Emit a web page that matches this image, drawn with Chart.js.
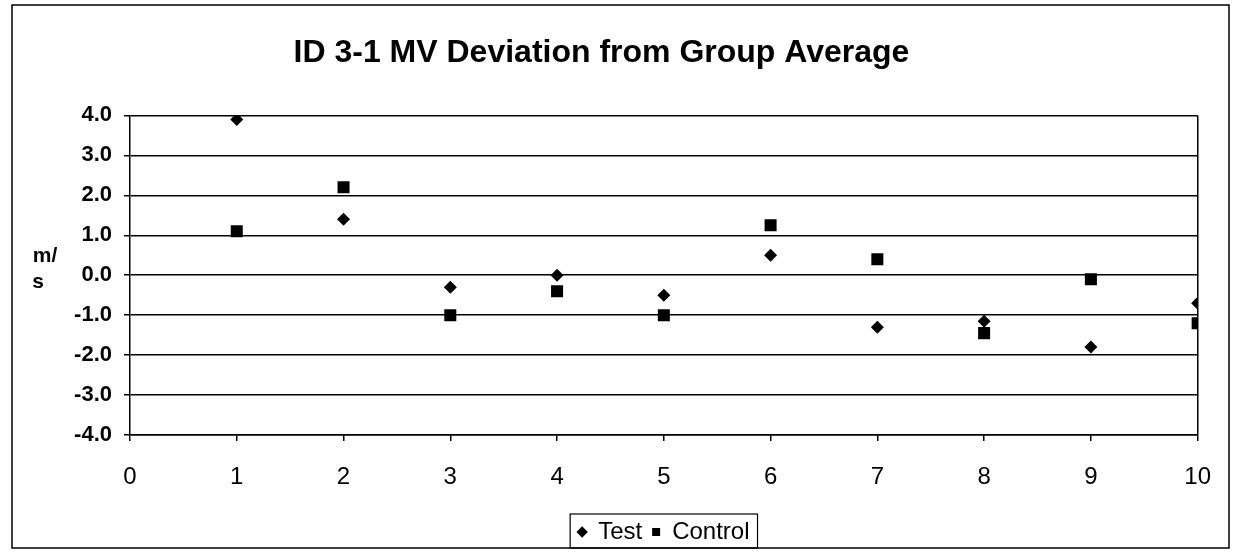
<!DOCTYPE html>
<html>
<head>
<meta charset="utf-8">
<script src="https://cdn.jsdelivr.net/npm/chart.js@4/dist/chart.umd.min.js"></script>
<style>
  html, body { margin: 0; padding: 0; background: #fff; }
  #wrap { width: 1233px; height: 560px; }
</style>
</head>
<body>
<div id="wrap"><canvas id="myChart" width="1233" height="560"></canvas></div>
<script>
'use strict'

// データ
const xValues = [1, 2, 3, 4, 5, 6, 7, 8, 9, 10];
const testValues = [3.9, 1.4, -0.3, 0.0, -0.5, 0.5, -1.3, -1.15, -1.8, -0.7];
const controlValues = [1.1, 2.2, -1.0, -0.4, -1.0, 1.25, 0.4, -1.45, -0.1, -1.2];
const yTicks = [-4, -3, -2, -1, 0, 1, 2, 3, 4];
const xTicks = [0, 1, 2, 3, 4, 5, 6, 7, 8, 9, 10];

const FONT = "Arial, 'Liberation Sans', sans-serif";

function toPoints(ys) {
    return xValues.map((x, i) => ({ x: x, y: ys[i] }));
}

// 外枠・凡例枠・縦軸タイトル
const framePlugin = {
    id: 'frame',
    beforeDraw(chart) {
        const c = chart.ctx;
        c.save();
        c.fillStyle = '#fff';
        c.fillRect(0, 0, chart.width, chart.height);
        c.strokeStyle = '#000';
        c.lineWidth = 1.5;
        c.strokeRect(12, 5, 1217, 543);
        c.restore();
    },
    afterDraw(chart) {
        const c = chart.ctx;
        const boxes = chart.legend.legendHitBoxes;
        if (boxes && boxes.length) {
            const first = boxes[0];
            const last = boxes[boxes.length - 1];
            const left = first.left - 8;
            const right = last.left + last.width + 8;
            c.save();
            c.strokeStyle = '#000';
            c.lineWidth = 1.2;
            c.strokeRect(left, first.top - 6, right - left, first.height + 10);
            c.restore();
        }
        c.save();
        c.fillStyle = '#000';
        c.font = 'bold 21px ' + FONT;
        c.textAlign = 'center';
        c.textBaseline = 'middle';
        c.fillText('m/', 45, 256);
        c.fillText('s', 38, 282);
        c.restore();
    }
};

new Chart(document.getElementById('myChart'), {
    type: 'scatter',
    data: {
        datasets: [{
            label: 'Test',
            data: toPoints(testValues),
            pointStyle: 'rectRot',
            pointRadius: 6.5,
            backgroundColor: '#000',
            borderColor: '#000',
            borderWidth: 0
        }, {
            label: 'Control',
            data: toPoints(controlValues),
            pointStyle: 'rect',
            pointRadius: 8.5,
            backgroundColor: '#000',
            borderColor: '#000',
            borderWidth: 0
        }]
    },
    options: {
        responsive: false,
        animation: false,
        layout: { padding: { left: 0, right: 30, top: 0, bottom: 6 } },
        scales: {
            x: {
                type: 'linear',
                min: 0,
                max: 10,
                afterBuildTicks(scale) { scale.ticks = xTicks.map(v => ({ value: v })); },
                afterFit(scale) { scale.height = 75; },
                ticks: {
                    color: '#000',
                    padding: 22,
                    font: { family: FONT, size: 24 },
                    maxRotation: 0
                },
                grid: {
                    color: ctx => (ctx.tick && ctx.tick.value === 10) ? '#000' : 'rgba(0,0,0,0)',
                    tickColor: '#000',
                    tickLength: 6,
                    lineWidth: 1.5
                },
                border: { display: true, color: '#000', width: 1.5 }
            },
            y: {
                type: 'linear',
                min: -4,
                max: 4,
                afterBuildTicks(scale) { scale.ticks = yTicks.map(v => ({ value: v })); },
                afterFit(scale) { scale.width = 130; },
                ticks: {
                    color: '#000',
                    padding: 12,
                    font: { family: FONT, size: 22, weight: 'bold' },
                    callback: v => Number(v).toFixed(1)
                },
                grid: {
                    color: '#000',
                    tickColor: '#000',
                    tickLength: 6,
                    lineWidth: 1.5
                },
                border: { display: true, color: '#000', width: 1.5 }
            }
        },
        plugins: {
            title: {
                display: true,
                text: 'ID 3-1 MV Deviation from Group Average',
                color: '#000',
                font: { family: FONT, size: 32, weight: 'bold' },
                padding: { top: 34, bottom: 43 }
            },
            legend: {
                position: 'bottom',
                fullSize: false,
                labels: {
                    color: '#000',
                    usePointStyle: true,
                    boxWidth: 8,
                    boxHeight: 8,
                    padding: 10,
                    font: { family: FONT, size: 24 }
                }
            },
            tooltip: { enabled: false }
        }
    },
    plugins: [framePlugin]
});
</script>
</body>
</html>
